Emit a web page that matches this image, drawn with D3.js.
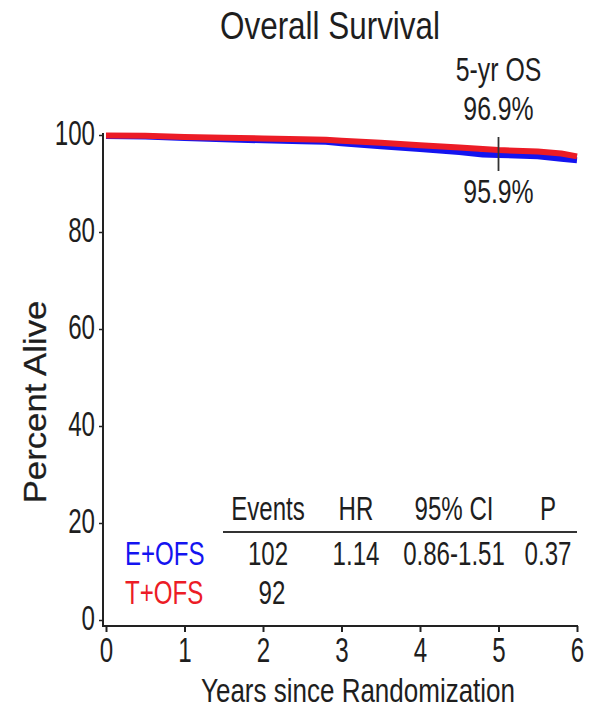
<!DOCTYPE html>
<html><head><meta charset="utf-8">
<script src="https://cdn.jsdelivr.net/npm/d3@7"></script>
<style>
html,body{margin:0;padding:0;background:#fff;}
text{font-family:"Liberation Sans",Arial,sans-serif;fill:#1e1e1e;}
</style></head>
<body><svg id="c" width="596" height="711"></svg>
<script>
// ---- data ----
const years   = [0, 0.5, 1.0, 1.5, 2.0, 2.5, 2.8, 3.0, 3.5, 4.0, 4.5, 4.8, 5.0, 5.5, 5.8, 6.0];
const eOFS    = [99.8, 99.7, 99.4, 99.1, 98.9, 98.7, 98.6, 98.3, 97.7, 97.1, 96.5, 96.0, 95.9, 95.6, 95.1, 94.8];
const tOFS    = [99.9, 99.85, 99.6, 99.45, 99.3, 99.1, 99.0, 98.8, 98.4, 97.9, 97.4, 97.1, 96.9, 96.6, 96.2, 95.6];
const groups  = ["E+OFS", "T+OFS"];
const groupColors = ["#1414f0", "#ec1c26"];
const xTicks  = [0, 1, 2, 3, 4, 5, 6];
const yTicks  = [0, 20, 40, 60, 80, 100];
const tableHeaders = ["Events", "HR", "95% CI", "P"];
const eRow = ["102", "1.14", "0.86-1.51", "0.37"];
const tRow = ["92", "", "", ""];
const landmarkYear = 5;
const landmarkLabels = ["5-yr OS", "96.9%", "95.9%"];
const titleText = "Overall Survival";
const xTitle = "Years since Randomization";
const yTitle = "Percent Alive";

// ---- layout ----
const svg = d3.select("#c");
const x = d3.scaleLinear().domain([0, 6]).range([106, 577]);
const y = d3.scaleLinear().domain([0, 100]).range([620, 135]);
const axisColor = "#222";

function txt(g, px, py, s, size, sx, anchor, color) {
  return g.append("text")
    .attr("transform", `translate(${px},${py}) scale(${sx},1)`)
    .attr("text-anchor", anchor || "middle")
    .style("font-size", size + "px")
    .style("fill", color || "#1e1e1e")
    .text(s);
}

// title
txt(svg, 330, 39, titleText, 38.5, 0.816);

// axes lines
svg.append("line").attr("x1", 103).attr("x2", 103).attr("y1", 133).attr("y2", 627)
  .attr("stroke", axisColor).attr("stroke-width", 2);
svg.append("line").attr("x1", 102).attr("x2", 578).attr("y1", 626).attr("y2", 626)
  .attr("stroke", axisColor).attr("stroke-width", 2.2);

// y axis
const ya = svg.append("g").attr("transform", "translate(103,0)")
  .call(d3.axisLeft(y).tickValues(yTicks).tickSize(4).tickFormat(d3.format("d")));
ya.select(".domain").remove();
ya.selectAll(".tick line").attr("stroke", axisColor).attr("stroke-width", 1.5);
ya.selectAll(".tick text").attr("x", null).attr("dy", null)
  .attr("transform", "translate(-8,9) scale(0.7,1)")
  .attr("text-anchor", "end").style("font-size", "34.5px").style("fill", "#1e1e1e");

// x axis
const xa = svg.append("g").attr("transform", "translate(0,626)")
  .call(d3.axisBottom(x).tickValues(xTicks).tickSize(6).tickFormat(d3.format("d")));
xa.select(".domain").remove();
xa.selectAll(".tick line").attr("stroke", axisColor).attr("stroke-width", 2);
xa.selectAll(".tick text").attr("y", null).attr("dy", null)
  .attr("transform", "translate(0,35.5) scale(0.7,1)")
  .attr("text-anchor", "middle").style("font-size", "34.5px").style("fill", "#1e1e1e");

// axis titles
txt(svg, 358, 702, xTitle, 32.5, 0.8);
svg.append("text")
  .attr("transform", "translate(46,402) rotate(-90) scale(1.12,1)")
  .attr("text-anchor", "middle")
  .style("font-size", "31px")
  .style("stroke", "#1e1e1e").style("stroke-width", 0.25)
  .text(yTitle);

// curves
const line = d3.line().x((d, i) => x(years[i])).y(d => y(d)).curve(d3.curveLinear);
svg.append("path").attr("d", line(eOFS)).attr("fill", "none")
  .attr("stroke", groupColors[0]).attr("stroke-width", 6).attr("stroke-linejoin", "round");
svg.append("path").attr("d", line(tOFS)).attr("fill", "none")
  .attr("stroke", groupColors[1]).attr("stroke-width", 6).attr("stroke-linejoin", "round");

// landmark
const lx = x(landmarkYear);
svg.append("line").attr("x1", lx).attr("x2", lx).attr("y1", 137).attr("y2", 171)
  .attr("stroke", "#333").attr("stroke-width", 1.8);
txt(svg, lx, 81, landmarkLabels[0], 34, 0.73);
txt(svg, lx, 120, landmarkLabels[1], 34, 0.73);
txt(svg, lx, 203, landmarkLabels[2], 34, 0.73);

// table
const colX = [268, 356, 454, 548];
tableHeaders.forEach((h, i) => txt(svg, colX[i], 520, h, 33, 0.73));
svg.append("line").attr("x1", 223).attr("x2", 577).attr("y1", 532).attr("y2", 532)
  .attr("stroke", "#333").attr("stroke-width", 2.2);
txt(svg, 125, 565, groups[0], 33, 0.73, "start", groupColors[0]);
txt(svg, 125, 603.5, groups[1], 33, 0.73, "start", groupColors[1]);
eRow.forEach((v, i) => { if (v) txt(svg, colX[i], 565, v, 33, 0.73); });
tRow.forEach((v, i) => { if (v) txt(svg, colX[i] + 4, 603.5, v, 33, 0.73); });
</script></body></html>
